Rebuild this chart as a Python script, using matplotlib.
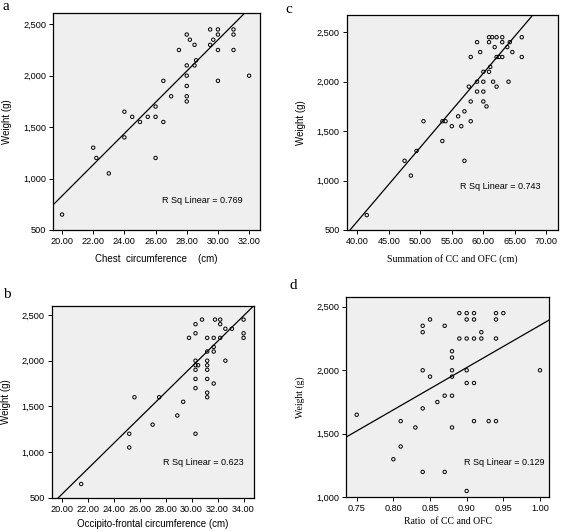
import numpy as np
import matplotlib
matplotlib.use("Agg")
import matplotlib.pyplot as plt
from matplotlib.ticker import FuncFormatter

# panel a: chest circumference vs weight
cc = [20, 22, 22.2, 23, 24, 24, 24.5, 25, 25.5, 26, 26, 26, 26.5, 26.5, 27,
      27.5, 28, 28, 28, 28, 28, 28, 28.2, 28.5, 28.5, 28.6, 29.5, 29.5, 29.7,
      30, 30, 30, 30, 31, 31, 31, 32]
wt_a = [650, 1300, 1200, 1050, 1650, 1400, 1600, 1550, 1600, 1600, 1700, 1200,
        1950, 1550, 1800, 2250, 2400, 2100, 2000, 1900, 1800, 1750, 2350, 2300,
        2100, 2150, 2450, 2300, 2350, 2450, 2400, 2250, 1950, 2450, 2400, 2250, 2000]

# panel b: occipito-frontal circumference vs weight
ofc = [21.5, 25.2, 25.2, 25.6, 27.0, 27.5, 28.9, 29.35, 29.8, 30.3, 30.3, 30.3,
       30.3, 30.3, 30.3, 30.3, 30.3, 30.5, 30.8, 31.2, 31.2, 31.2, 31.2, 31.2,
       31.2, 31.2, 31.2, 31.7, 31.7, 31.7, 31.7, 31.8, 32.2, 32.2, 32.2, 32.6,
       32.6, 33.1, 34.0, 34.0, 34.0]
wt_b = [650, 1200, 1050, 1600, 1300, 1600, 1400, 1550, 2250, 2400, 2300, 2000,
        1950, 1900, 1800, 1700, 1200, 1950, 2450, 2250, 2100, 2000, 1950, 1900,
        1800, 1650, 1600, 2250, 2150, 2100, 1750, 2450, 2450, 2400, 2250, 2350,
        2000, 2350, 2450, 2300, 2250]

# panel c: CC + OFC vs weight
sum_cc_ofc = [41.5, 47.5, 48.5, 49.4, 50.5, 53.5, 53.5, 54.0, 55.0, 56.0, 56.5,
              57.0, 57.0, 57.7, 58.0, 58.0, 58.0, 59.0, 59.0, 59.0, 59.5, 60.0,
              60.0, 60.0, 60.0, 60.5, 60.9, 60.9, 60.9, 61.1, 61.4, 61.55, 61.8,
              62.1, 62.1, 62.1, 62.5, 63.0, 63.0, 63.0, 63.8, 64.0, 64.2, 64.6,
              66.1, 66.1]
wt_c = [650, 1200, 1050, 1300, 1600, 1600, 1400, 1600, 1550, 1650, 1550,
        1700, 1200, 1950, 2250, 1800, 1600, 2400, 2000, 1900, 2300, 2100,
        2000, 1900, 1800, 1750, 2450, 2400, 2100, 2150, 2450, 2000, 2350,
        2450, 2250, 1950, 2250, 2450, 2400, 2250, 2350, 2000, 2400, 2300,
        2450, 2250]

# panel d: CC / OFC ratio vs weight
ratio = [0.75, 0.80, 0.81, 0.81, 0.83, 0.84, 0.84, 0.84, 0.84, 0.84, 0.85, 0.85,
         0.86, 0.87, 0.87, 0.87, 0.88, 0.88, 0.88, 0.88, 0.88, 0.88, 0.89, 0.89,
         0.90, 0.90, 0.90, 0.90, 0.90, 0.90, 0.91, 0.91, 0.91, 0.91, 0.91, 0.92,
         0.92, 0.93, 0.94, 0.94, 0.94, 0.94, 0.95, 1.00]
wt_d = [1650, 1300, 1400, 1600, 1550, 2350, 2300, 2000, 1700, 1200, 2400, 1950,
        1750, 2350, 1800, 1200, 2150, 2100, 2000, 1950, 1800, 1550, 2450, 2250,
        2450, 2400, 2250, 2000, 1900, 1050, 2450, 2400, 2250, 1900, 1600, 2300,
        2250, 1600, 2450, 2400, 2250, 1600, 2450, 2000]

# fitted lines (slope, intercept) as shown in the figure
fit_a = [151.7, -2203]
fit_b = [139.7, -2258]
fit_c = [74.95, -2411]
fit_d = [3327, -973]

r2_labels = ["R Sq Linear = 0.769", "R Sq Linear = 0.623",
             "R Sq Linear = 0.743", "R Sq Linear = 0.129"]

SANS = "Liberation Sans"
SERIF = "Liberation Serif"

fig = plt.figure(figsize=(5.65, 5.31), dpi=100)
fig.patch.set_facecolor("white")


def panel(rect, x, y, fit, xlim, ylim, xticks, yticks, xlabel, xfont,
          ylabel_font, r2, r2pos, letter, letter_pos, xpad):
    ax = fig.add_axes(rect)
    ax.set_facecolor("#efefef")
    ax.scatter(x, y, s=6, facecolors="none", edgecolors="black", linewidths=0.7, zorder=3)
    xs = np.array(xlim)
    ax.plot(xs, fit[0] * xs + fit[1], color="black", lw=0.9, zorder=2)
    ax.set_xlim(xlim)
    ax.set_ylim(ylim)
    ax.set_xticks(xticks)
    ax.set_yticks(yticks)
    ax.xaxis.set_major_formatter(FuncFormatter(lambda v, p: "{:.2f}".format(v)))
    ax.yaxis.set_major_formatter(FuncFormatter(lambda v, p: "{:,.0f}".format(v)))
    ax.tick_params(direction="out", length=3, width=0.7, labelsize=6.6, pad=2)
    for lab in ax.get_xticklabels() + ax.get_yticklabels():
        lab.set_fontfamily(SANS)
    for sp in ax.spines.values():
        sp.set_linewidth(0.9)
    ax.set_xlabel(xlabel, fontfamily=xfont, fontsize=7, labelpad=xpad)
    ax.set_ylabel("Weight (g)", fontfamily=ylabel_font, fontsize=7, labelpad=8)
    ax.text(r2pos[0], r2pos[1], r2, transform=ax.transAxes, fontfamily=SANS,
            fontsize=6.5, va="center", ha="left")
    fig.text(letter_pos[0], letter_pos[1], letter, fontfamily=SERIF, fontsize=11,
             va="top", ha="left")
    return ax


panel([0.0938, 0.5669, 0.3664, 0.4087], cc, wt_a, fit_a, (19.42, 32.7), (500, 2610),
      np.arange(20, 33, 2), np.arange(500, 2501, 500),
      "Chest  circumference    (cm)", SANS, SANS, r2_labels[0], (0.527, 0.138),
      "a", (0.004, 1.0), 6)

panel([0.6136, 0.5669, 0.374, 0.4049], sum_cc_ofc, wt_c, fit_c, (38.31, 71.85), (500, 2675),
      np.arange(40, 71, 5), np.arange(500, 2501, 500),
      "Summation of CC and OFC (cm)", SERIF, SANS, r2_labels[2], (0.536, 0.2),
      "c", (0.505, 0.995), 6)

panel([0.0915, 0.0627, 0.358, 0.3616], ofc, wt_b, fit_b, (19.23, 34.8), (500, 2602),
      np.arange(20, 35, 2), np.arange(500, 2501, 500),
      "Occipito-frontal circumference (cm)", SANS, SANS, r2_labels[1], (0.55, 0.182),
      "b", (0.006, 0.458), 4)

panel([0.6124, 0.0634, 0.3598, 0.3778], ratio, wt_d, fit_d, (0.7354, 1.0127), (1000, 2579),
      np.arange(0.75, 1.01, 0.05), np.arange(1000, 2501, 500),
      "Ratio  of CC and OFC", SERIF, SERIF, r2_labels[3], (0.58, 0.172),
      "d", (0.513, 0.475), 3)

fig.savefig("out.png", dpi=100)
